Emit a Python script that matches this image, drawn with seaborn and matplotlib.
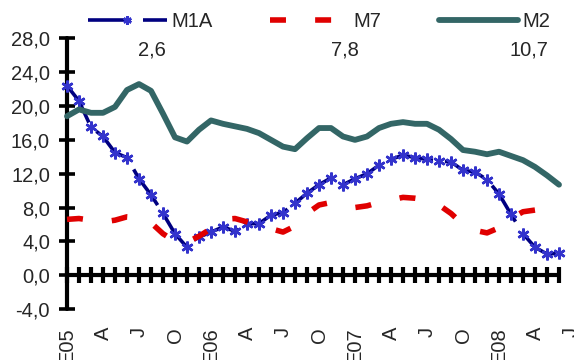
import matplotlib
matplotlib.use("Agg")
import matplotlib.pyplot as plt
import seaborn as sns
import numpy as np
import pandas as pd

# ---- data ----
months = list(range(42))  # Jan 2005 .. Jun 2008
m1a = [22.4, 20.6, 17.5, 16.4, 14.5, 13.9, 11.4, 9.5, 7.3, 4.9, 3.3, 4.5, 5.1, 5.7,
       5.2, 6.1, 6.1, 7.1, 7.4, 8.5, 9.7, 10.7, 11.5, 10.7, 11.4, 12.0, 13.0, 13.7,
       14.2, 13.9, 13.7, 13.5, 13.4, 12.4, 12.2, 11.3, 9.6, 7.2, 4.9, 3.3, 2.5, 2.6]
m7 = [6.6, 6.7, 6.5, 6.3, 6.5, 6.9, 6.8, 6.2, 4.9, 4.0, 3.9, 4.6, 5.5, 6.6,
      6.7, 6.3, 5.8, 5.5, 5.1, 5.8, 7.3, 8.3, 8.6, 8.4, 8.0, 8.2, 8.6, 8.9,
      9.2, 9.1, 8.9, 8.3, 7.3, 6.0, 5.3, 5.0, 5.6, 6.7, 7.5, 7.7, 8.1, 7.8]
m2 = [18.8, 19.6, 19.2, 19.2, 19.9, 21.9, 22.6, 21.8, 19.1, 16.3, 15.8, 17.2, 18.3, 17.9,
      17.6, 17.3, 16.8, 16.0, 15.2, 14.9, 16.2, 17.4, 17.4, 16.4, 16.0, 16.4, 17.4, 17.9,
      18.1, 17.9, 17.9, 17.2, 16.1, 14.8, 14.6, 14.3, 14.6, 14.1, 13.6, 12.8, 11.8, 10.7]
series_names = ["M1A", "M7", "M2"]
xtick_pos = list(range(0, 43, 3))
xtick_labels = ["E05", "A", "J", "O", "E06", "A", "J", "O", "E07", "A", "J", "O", "E08", "A", "J"]
ytick_vals = list(range(-4, 29, 4))

df = pd.DataFrame({"mes": months, "M1A": m1a, "M7": m7, "M2": m2})

# ---- style ----
sns.set_style("white")
plt.rcParams["font.family"] = ["Liberation Sans", "DejaVu Sans"]
plt.rcParams["font.size"] = 14.5
plt.rcParams["lines.scale_dashes"] = False

fig = plt.figure(figsize=(5.74, 3.60), dpi=100)
ax = fig.add_axes([67 / 574, 1 - 309 / 360, (571 - 67) / 574, (309 - 38.4) / 360])

navy = "#000080"
mblue = "#3333CC"
red = "#E00000"
teal = "#336666"

sns.lineplot(data=df, x="mes", y="M1A", ax=ax, color=navy, linewidth=2.6,
             marker=(6, 2, 0), markersize=8.5, markeredgewidth=1.8,
             markeredgecolor=mblue, markerfacecolor=mblue, label="M1A", zorder=3)
sns.lineplot(data=df, x="mes", y="M7", ax=ax, color=red, linewidth=4.0,
             label="M7", zorder=4)
sns.lineplot(data=df, x="mes", y="M2", ax=ax, color=teal, linewidth=4.2,
             label="M2", zorder=5)

l1, l7, l2 = ax.get_lines()[:3]
l1.set_dashes((31, 8.6))
l7.set_dashes((11.5, 21))
l7.set_dash_capstyle("butt")
l2.set_solid_capstyle("round")
l2.set_solid_joinstyle("round")
for ln in (l1, l7, l2):
    ln.set_clip_on(False)

ax.set_xlim(0, 42)
ax.set_ylim(-4, 28)
ax.set_xlabel("")
ax.set_ylabel("")

# y axis
ax.set_yticks(ytick_vals)
ax.set_yticklabels([f"{v:.1f}".replace(".", ",") for v in ytick_vals])
ax.spines["left"].set_bounds(-4, 28)
ax.spines["left"].set_linewidth(3.0)
ax.spines["left"].set_capstyle("round")
ax.spines["left"].set_color("black")
ax.tick_params(axis="y", left=True, direction="inout", length=11.5, width=2.6, pad=6.5,
               color="black", labelsize=14.5)

# x axis line at 0 with monthly ticks
ax.spines["bottom"].set_position(("data", 0))
ax.spines["bottom"].set_bounds(0, 41)
ax.spines["bottom"].set_linewidth(3.0)
ax.spines["bottom"].set_capstyle("round")
ax.spines["bottom"].set_color("black")
ax.set_xticks(months)
ax.tick_params(axis="x", bottom=True, direction="inout", length=11, width=3.0,
               color="black", labelbottom=False)
ax.spines["top"].set_visible(False)
ax.spines["right"].set_visible(False)
for t in ax.xaxis.get_major_ticks() + ax.yaxis.get_major_ticks():
    t.tick1line.set_solid_capstyle("round")

# category labels at the bottom
sec = ax.secondary_xaxis("bottom")
sec.set_xticks(xtick_pos)
sec.set_xticklabels(xtick_labels, rotation=90, fontsize=14.5)
sec.tick_params(length=0, pad=13)
for s in sec.spines.values():
    s.set_visible(False)

ax.grid(False)

# legend
if ax.get_legend():
    ax.get_legend().remove()
leg = fig.legend(handles=[l1, l7, l2], labels=series_names, loc="center left",
                 bbox_to_anchor=(88 / 574, 1 - 21.5 / 360), ncol=3, frameon=False,
                 borderpad=0, borderaxespad=0, handlelength=3.9, handletextpad=0.25,
                 columnspacing=2.85, fontsize=14.5)
for h in leg.legend_handles:
    if h.get_marker() not in (None, "None", ""):
        h.set_markersize(6)

# last values under legend
last_vals = [m1a[-1], m7[-1], m2[-1]]
val_x = [152, 345, 529]
for v, xp in zip(last_vals, val_x):
    fig.text(xp / 574, 1 - 50 / 360, f"{v:.1f}".replace(".", ","), ha="center",
             va="center", fontsize=14.5)

fig.savefig("out.png", dpi=100)
